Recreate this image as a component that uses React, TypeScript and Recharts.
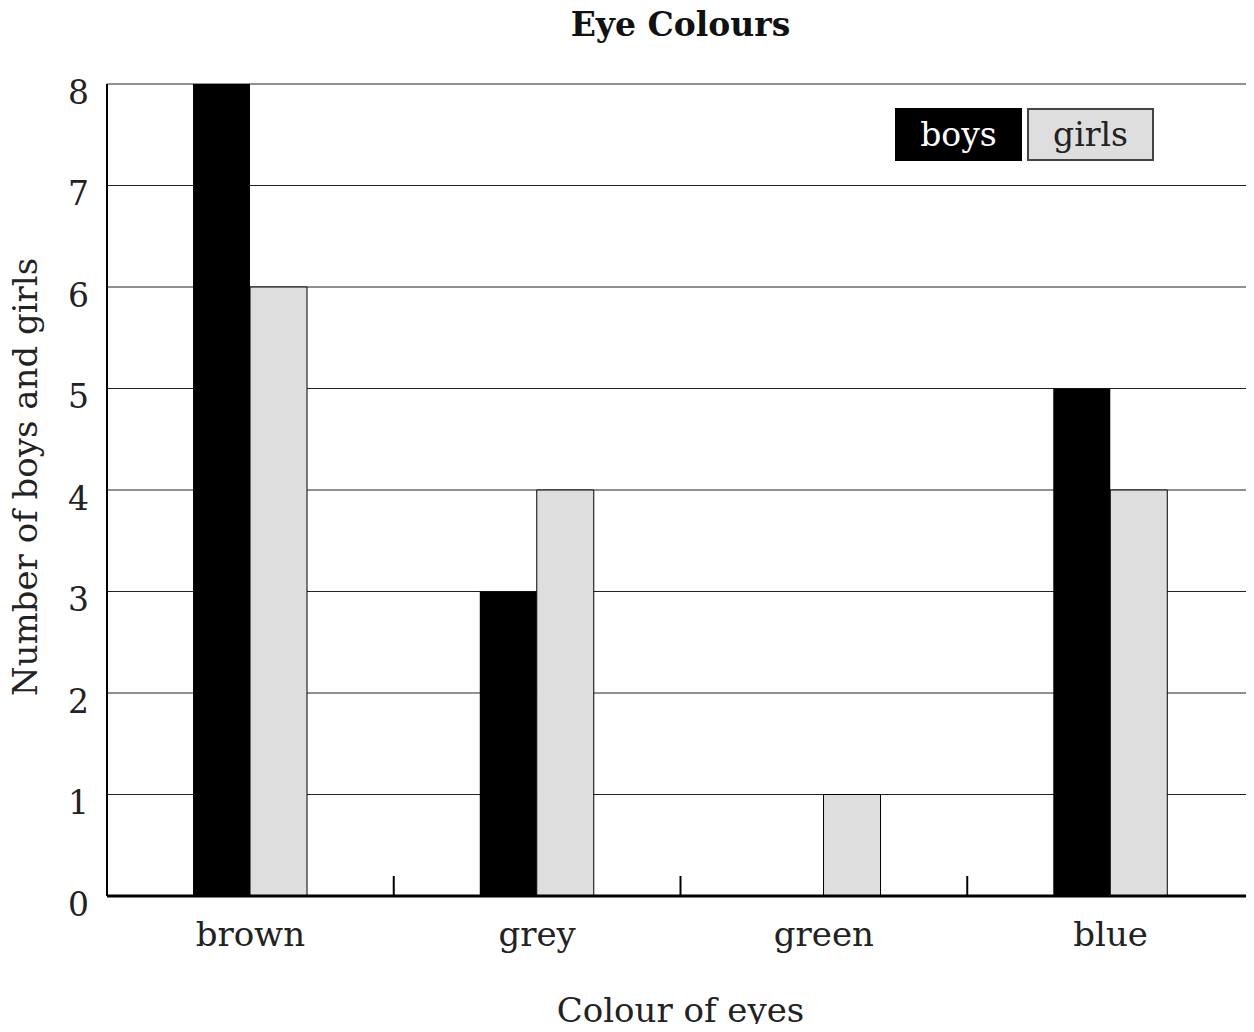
import React from 'react';
import { BarChart, Bar, XAxis, YAxis, CartesianGrid } from 'recharts';

const colours = ['brown', 'grey', 'green', 'blue'];
const boys = [8, 3, 0, 5];
const girls = [6, 4, 1, 4];
const yTicks = [0, 1, 2, 3, 4, 5, 6, 7, 8];
const separators = [1, 2, 3];

const series = [
    { key: 'boys', fill: '#000000', text: '#ffffff', border: '#000000' },
    { key: 'girls', fill: '#dedede', text: '#222222', border: '#444444' },
];

const data = colours.map((c, i) => ({ colour: c, boys: boys[i], girls: girls[i] }));

const FONT = '"DejaVu Serif", "Liberation Serif", serif';

// rotated y-axis title, nudged a little above the plot centre like the original
const YTitle = (props: any) => {
    const vb = props.viewBox || {};
    const x = vb.x + 17;
    const y = vb.y + vb.height / 2 - 13;
    return (
        <text
            x={x}
            y={y}
            transform={`rotate(-90 ${x} ${y})`}
            textAnchor="middle"
            dominantBaseline="central"
            fill="#222"
            fontSize={34}
            fontFamily={FONT}
        >
            Number of boys and girls
        </text>
    );
};

const App: React.FC = () => {
    return (
        <div style={{ position: 'relative', width: 1246, height: 1016, fontFamily: FONT }}>
            <style>{'.recharts-surface { overflow: visible; }'}</style>
            <div
                style={{
                    position: 'absolute',
                    left: 99,
                    width: 1147,
                    top: 0,
                    textAlign: 'center',
                    fontWeight: 'bold',
                    fontSize: 33,
                    lineHeight: '34px',
                    color: '#111',
                }}
            >
                Eye Colours
            </div>
            <BarChart
                width={1246}
                height={1016}
                data={data}
                margin={{ top: 76, right: 0, left: 0, bottom: 0 }}
                barCategoryGap="30%"
                barGap={0}
            >
                <CartesianGrid vertical={false} stroke="#222" strokeWidth={1} />
                <XAxis
                    dataKey="colour"
                    height={128}
                    axisLine={{ stroke: '#000', strokeWidth: 3 }}
                    tickLine={false}
                    tickSize={0}
                    tickMargin={26}
                    tick={{ fill: '#222', fontSize: 34, fontFamily: FONT }}
                    label={{ value: 'Colour of eyes', position: 'insideBottom', offset: 2, fill: '#222', fontSize: 34, fontFamily: FONT }}
                />
                <XAxis
                    xAxisId="sep"
                    type="number"
                    dataKey="sep"
                    domain={[0, 4]}
                    ticks={separators}
                    interval={0}
                    allowDataOverflow
                    mirror
                    height={1}
                    axisLine={false}
                    tickFormatter={() => ''}
                    tickSize={20}
                    tickLine={{ stroke: '#000', strokeWidth: 2 }}
                />
                <YAxis
                    width={99}
                    domain={[0, 8]}
                    ticks={yTicks}
                    interval={0}
                    axisLine={{ stroke: '#000', strokeWidth: 2 }}
                    tickLine={false}
                    tickSize={0}
                    tickMargin={18}
                    tick={{ fill: '#222', fontSize: 33, fontFamily: FONT, dy: 8 }}
                    label={{ content: <YTitle /> }}
                />
                <Bar dataKey="boys" fill="#000000" isAnimationActive={false} />
                <Bar dataKey="girls" fill="#dedede" stroke="#000" strokeWidth={1} isAnimationActive={false} />
            </BarChart>
            <div style={{ position: 'absolute', left: 887, top: 100, display: 'flex', gap: 5 }}>
                {series.map((s) => (
                    <div
                        key={s.key}
                        style={{
                            boxSizing: 'border-box',
                            width: 127,
                            height: 53,
                            background: s.fill,
                            border: `2px solid ${s.border}`,
                            color: s.text,
                            fontSize: 33,
                            lineHeight: '49px',
                            textAlign: 'center',
                        }}
                    >
                        {s.key}
                    </div>
                ))}
            </div>
        </div>
    );
};

export default App;
